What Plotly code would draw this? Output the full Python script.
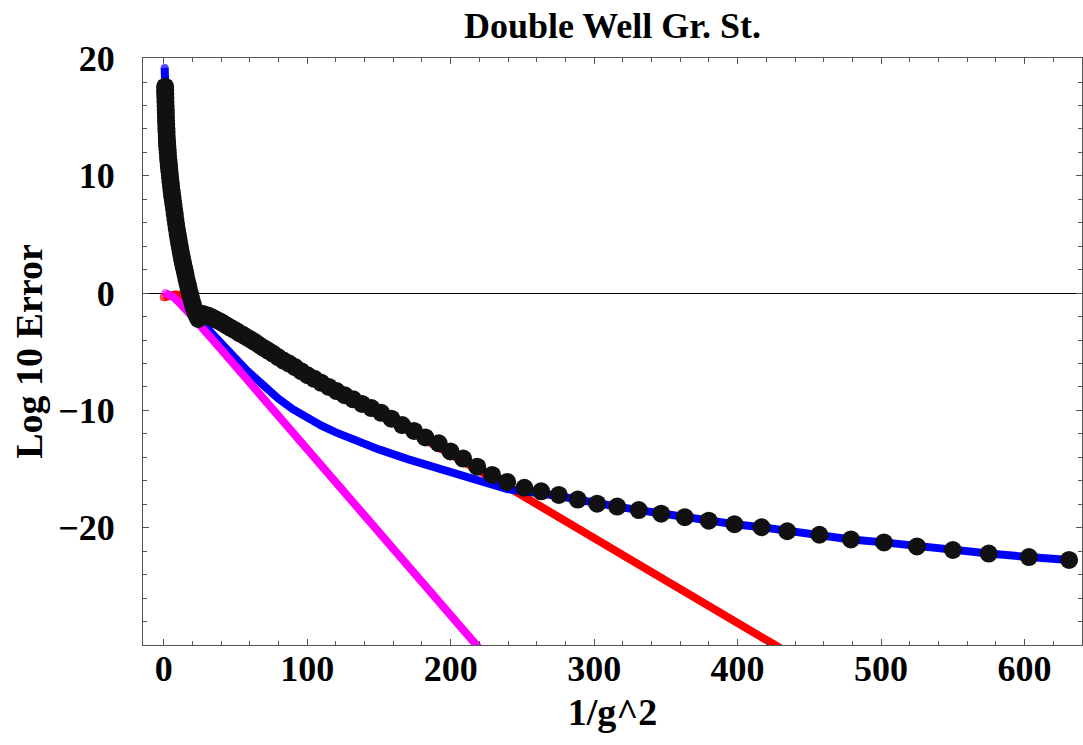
import plotly.graph_objects as go

# ---------------- data ----------------
black_x = [1.0, 1.06, 1.12, 1.19, 1.26, 1.34, 1.42, 1.5, 1.59, 1.69,
           1.79, 1.9, 2.01, 2.13, 2.26, 2.4, 2.54, 2.69, 2.85, 3.03,
           3.21, 3.4, 3.6, 3.82, 4.05, 4.29, 4.55, 4.82, 5.11, 5.42,
           5.74, 6.09, 6.45, 6.84, 7.25, 7.69, 8.15, 8.64, 9.15, 9.7,
           10.15, 10.6, 11.1, 11.6, 12.1, 12.65, 13.2, 13.8, 14.4, 15.05,
           15.7, 16.4, 17.1, 17.85, 18.6, 19.45, 20.3, 21.2, 22.1, 23.1,
           24.1,
           26.4, 27.6, 28.9, 30.3, 31.7, 33.2, 34.8, 36.4, 38.1, 39.9,
           41.8, 43.8, 45.9, 48.0, 50.3, 52.7, 55.2, 57.8, 60.5, 63.3,
           66.3, 69.4, 72.7, 76.1, 79.7, 83.5, 87.4, 91.5, 95.8, 100.3,
           105.0, 109.9, 115.1, 120.5, 126.1, 132.1, 138.3, 144.8, 151.6, 158.7,
           166.2, 174.5, 182.4, 191.7, 199.9, 208.7, 218.5, 228.9, 239.4, 251.4,
           263.1, 275.4, 288.6, 302.1, 316.1, 331.1, 346.7, 363.2, 379.9, 397.8,
           416.7, 434.6, 457, 479, 502, 525, 550, 575, 603, 631]
black_y = [17.6, 17.28, 16.97, 16.64, 16.32, 15.98, 15.66, 15.36, 15.03, 14.69,
           14.38, 14.04, 13.73, 13.41, 13.08, 12.79, 12.53, 12.26, 12.0, 11.71,
           11.44, 11.18, 10.91, 10.64, 10.37, 10.09, 9.76, 9.45, 9.13, 8.81,
           8.50, 8.18, 7.87, 7.55, 7.18, 6.75, 6.33, 5.91, 5.49, 5.07,
           4.74, 4.41, 4.06, 3.71, 3.39, 3.04, 2.71, 2.36, 2.03, 1.69,
           1.31, 0.93, 0.57, 0.19, -0.17, -0.57, -0.95, -1.32, -1.62, -1.92,
           -2.2,
           -1.75, -1.8, -1.85, -1.9, -1.95, -2.05, -2.15, -2.25, -2.35, -2.45,
           -2.6, -2.75, -2.9, -3.05, -3.2, -3.4, -3.55, -3.75, -3.95, -4.15,
           -4.4, -4.65, -4.9, -5.15, -5.45, -5.75, -6.0, -6.3, -6.65, -7.0,
           -7.3, -7.65, -8.0, -8.35, -8.7, -9.05, -9.45, -9.8, -10.2, -10.7,
           -11.25, -11.75, -12.3, -12.8, -13.5, -14.1, -14.8, -15.5, -16.1, -16.6,
           -16.9, -17.2, -17.6, -17.95, -18.2, -18.5, -18.8, -19.1, -19.4, -19.7,
           -19.96, -20.3, -20.6, -21.0, -21.25, -21.6, -21.9, -22.2, -22.5, -22.75]

blue_x = [0.7, 1.0, 1.5, 2.3, 4.2, 7.0, 10.5, 15.1, 20.9, 24.3,
          28, 33, 40, 46.5, 58, 70, 80, 90, 100, 110,
          120, 130, 140, 150, 170, 190, 210, 239.4, 251.4, 263.1,
          275.4, 288.6, 302.1, 316.1, 331.1, 346.7, 363.2, 379.9, 397.8, 416.7,
          434.6, 457, 479, 502, 525, 550, 575, 603, 631]
blue_y = [19.2, 17.6, 15.4, 13.0, 10.2, 7.4, 4.5, 1.7, -1.2, -2.3,
          -2.7, -3.3, -4.2, -5.1, -6.6, -7.98, -9.0, -9.9, -10.65, -11.3,
          -11.87, -12.4, -12.88, -13.32, -14.15, -14.93, -15.65, -16.7, -16.9, -17.05,
          -17.3, -17.6, -17.95, -18.2, -18.5, -18.8, -19.1, -19.4, -19.7, -19.96,
          -20.3, -20.6, -21.0, -21.25, -21.6, -21.9, -22.2, -22.5, -22.75]

red_x = [0, 4, 8, 11, 14, 18, 23, 28, 60.5, 100.3, 151.6, 199.9, 218.5, 228.9,
         239.4, 426, 445]
red_y = [-0.35, -0.2, -0.12, -0.15, -0.35, -0.8, -1.4, -1.85, -4.05, -7.1, -10.35,
         -13.65, -14.95, -15.65, -16.5, -30.0, -31.4]

magenta_x = [1.2, 4, 7, 10, 13.9, 20, 40, 104.6, 151, 217.3, 225]
magenta_y = [0.0, -0.1, -0.35, -0.7, -1.15, -2.0, -4.8, -13.9, -20.4, -29.9, -31.0]

x_ticks = [0, 100, 200, 300, 400, 500, 600]
y_ticks = [-20, -10, 0, 10, 20]

title_text = "Double Well Gr. St."
x_title = "1/g^2"
y_title = "Log 10 Error"

# ---------------- figure ----------------
FONT = "Liberation Serif"
LW = 8


def cap_sizes(n):
    # round cap at the first and last point of a thick line
    return [LW] + [0] * (n - 2) + [LW]


fig = go.Figure()

fig.add_trace(go.Scatter(x=red_x, y=red_y, mode="lines+markers",
                         line=dict(color="#FF0000", width=LW),
                         marker=dict(color="#FF0000", size=cap_sizes(len(red_x)), line=dict(width=0)),
                         hoverinfo="skip"))
fig.add_trace(go.Scatter(x=blue_x, y=blue_y, mode="lines+markers",
                         line=dict(color="#0000FF", width=LW),
                         marker=dict(color="#0000FF", size=cap_sizes(len(blue_x)), line=dict(width=0)),
                         hoverinfo="skip"))
fig.add_trace(go.Scatter(x=magenta_x, y=magenta_y, mode="lines+markers",
                         line=dict(color="#FF00FF", width=LW),
                         marker=dict(color="#FF00FF", size=cap_sizes(len(magenta_x)), line=dict(width=0)),
                         hoverinfo="skip"))
fig.add_trace(go.Scatter(x=black_x, y=black_y, mode="markers",
                         marker=dict(color="#111111", size=18, line=dict(width=0)),
                         hoverinfo="skip"))

axis_common = dict(
    showgrid=False,
    showline=True, linecolor="#555555", linewidth=1,
    mirror="allticks",
    ticks="inside", ticklen=6, tickwidth=1, tickcolor="#555555",
    tickfont=dict(family=FONT, size=36, color="black", weight="bold"),
)

fig.update_layout(
    width=1083, height=745,
    margin=dict(l=143, r=1, t=58, b=100),
    paper_bgcolor="white", plot_bgcolor="white",
    showlegend=False,
    title=dict(text=title_text, x=0.5, xref="paper", xanchor="center",
               y=1 - 25 / 745, yref="container", yanchor="middle",
               font=dict(family=FONT, size=36, color="black", weight="bold")),
    xaxis=dict(**axis_common, range=[-14.4, 640], tickvals=x_ticks,
               zeroline=False, ticklabelstandoff=-8,
               minor=dict(ticks="inside", dtick=20, ticklen=4, tickcolor="#555555", showgrid=False),
               title=dict(text=x_title, standoff=10,
                          font=dict(family=FONT, size=38, color="black", weight="bold"))),
    yaxis=dict(**axis_common, range=[-30, 20.05], tickvals=y_ticks,
               zeroline=True, zerolinecolor="black", zerolinewidth=1,
               ticklabelstandoff=20,
               minor=dict(ticks="inside", dtick=2, ticklen=4, tickcolor="#555555", showgrid=False),
               title=dict(text=y_title, standoff=3,
                          font=dict(family=FONT, size=38, color="black", weight="bold"))),
)

fig.write_html("out.html")
